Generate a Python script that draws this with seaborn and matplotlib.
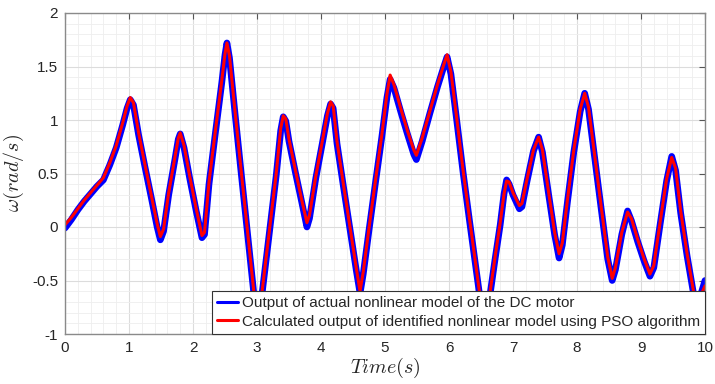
import numpy as np
import pandas as pd
import matplotlib
matplotlib.use("Agg")
import matplotlib.pyplot as plt
import seaborn as sns
from matplotlib.ticker import MultipleLocator

# ---- data ----
time_s = [0.00, 0.10, 0.20, 0.30, 0.40, 0.50, 0.60, 0.70, 0.80, 0.90, 0.97, 1.02, 1.07, 1.15, 1.25, 1.35,
          1.44, 1.49, 1.54, 1.62, 1.72, 1.77, 1.80, 1.86, 1.95, 2.05, 2.14, 2.18, 2.25, 2.35, 2.45, 2.50,
          2.53, 2.57, 2.65, 2.75, 2.85, 2.95, 3.01, 3.08, 3.20, 3.30, 3.37, 3.41, 3.45, 3.50, 3.60, 3.70,
          3.78, 3.82, 3.92, 4.02, 4.10, 4.15, 4.19, 4.25, 4.35, 4.45, 4.55, 4.61, 4.66, 4.75, 4.85, 4.95,
          5.03, 5.08, 5.14, 5.25, 5.35, 5.45, 5.49, 5.58, 5.70, 5.82, 5.92, 5.97, 6.03, 6.12, 6.22, 6.32,
          6.42, 6.52, 6.57, 6.62, 6.72, 6.80, 6.86, 6.90, 6.94, 7.00, 7.10, 7.14, 7.22, 7.32, 7.40, 7.46,
          7.55, 7.65, 7.72, 7.77, 7.85, 7.95, 8.05, 8.12, 8.18, 8.28, 8.38, 8.48, 8.55, 8.60, 8.70, 8.79,
          8.85, 8.95, 9.05, 9.14, 9.20, 9.30, 9.40, 9.48, 9.54, 9.62, 9.72, 9.82, 9.88, 9.95, 10.00]

pso_output = [0.02, 0.09, 0.17, 0.25, 0.32, 0.39, 0.46, 0.60, 0.76, 0.97, 1.13, 1.21, 1.16, 0.88, 0.58, 0.29,
              0.03, -0.09, -0.02, 0.32, 0.66, 0.83, 0.88, 0.76, 0.47, 0.17, -0.08, -0.05, 0.42, 0.90, 1.37, 1.62,
              1.72, 1.60, 1.12, 0.54, -0.03, -0.60, -0.93, -0.60, 0.00, 0.50, 0.92, 1.04, 1.01, 0.82, 0.53, 0.25,
              0.04, 0.11, 0.48, 0.80, 1.06, 1.17, 1.13, 0.80, 0.40, 0.01, -0.38, -0.60, -0.42, -0.01, 0.43, 0.86,
              1.24, 1.42, 1.33, 1.10, 0.90, 0.72, 0.67, 0.83, 1.08, 1.33, 1.52, 1.61, 1.45, 1.02, 0.53, 0.08,
              -0.36, -0.80, -0.90, -0.70, -0.28, 0.04, 0.31, 0.43, 0.42, 0.32, 0.20, 0.22, 0.45, 0.72, 0.84, 0.72,
              0.35, -0.05, -0.25, -0.15, 0.25, 0.72, 1.10, 1.25, 1.12, 0.65, 0.18, -0.28, -0.48, -0.38, -0.05, 0.14,
              0.08, -0.12, -0.30, -0.44, -0.36, 0.05, 0.45, 0.65, 0.55, 0.15, -0.25, -0.60, -0.70, -0.62, -0.55]

actual_output = [-0.01, 0.07, 0.16, 0.24, 0.31, 0.38, 0.44, 0.58, 0.74, 0.95, 1.11, 1.19, 1.14, 0.86, 0.56, 0.27,
                 0.00, -0.12, -0.04, 0.30, 0.64, 0.82, 0.87, 0.74, 0.45, 0.15, -0.10, -0.07, 0.40, 0.88, 1.35, 1.61,
                 1.72, 1.58, 1.10, 0.52, -0.05, -0.62, -0.95, -0.62, -0.02, 0.48, 0.90, 1.03, 0.99, 0.80, 0.51, 0.23,
                 0.00, 0.08, 0.46, 0.78, 1.04, 1.15, 1.11, 0.78, 0.38, -0.01, -0.40, -0.62, -0.44, -0.03, 0.41, 0.84,
                 1.21, 1.38, 1.30, 1.07, 0.87, 0.68, 0.63, 0.80, 1.06, 1.31, 1.50, 1.59, 1.43, 1.00, 0.51, 0.06,
                 -0.38, -0.82, -0.92, -0.72, -0.30, 0.02, 0.31, 0.44, 0.40, 0.30, 0.17, 0.19, 0.43, 0.71, 0.84, 0.70,
                 0.33, -0.07, -0.29, -0.17, 0.23, 0.70, 1.08, 1.25, 1.10, 0.63, 0.16, -0.30, -0.50, -0.40, -0.07, 0.15,
                 0.06, -0.14, -0.32, -0.46, -0.38, 0.03, 0.43, 0.66, 0.53, 0.13, -0.27, -0.62, -0.72, -0.60, -0.50]

label_actual = "Output of actual nonlinear model of the DC motor"
label_pso = "Calculated output of identified nonlinear model using PSO algorithm"

x_ticks = [0, 1, 2, 3, 4, 5, 6, 7, 8, 9, 10]
y_ticks = [-1, -0.5, 0, 0.5, 1, 1.5, 2]

df = pd.DataFrame({
    "t": time_s + time_s,
    "w": actual_output + pso_output,
    "series": [label_actual] * len(time_s) + [label_pso] * len(time_s),
})

sns.set_theme(style="white")
plt.rcParams["font.family"] = ["Liberation Sans", "DejaVu Sans"]
plt.rcParams["mathtext.fontset"] = "cm"

fig = plt.figure(figsize=(7.15, 3.84), dpi=100)
ax = fig.add_axes([65 / 715, 1 - 334 / 384, 640 / 715, 321 / 384])

sns.lineplot(data=df[df.series == label_actual], x="t", y="w", color="#0000FF", lw=4.8,
             ax=ax, label=label_actual, sort=False)
sns.lineplot(data=df[df.series == label_pso], x="t", y="w", color="#FF0000", lw=2.2,
             ax=ax, label=label_pso, sort=False)

ax.set_xlim(0, 10)
ax.set_ylim(-1, 2)
ax.set_xticks(x_ticks)
ax.set_xticklabels([f"{v:g}" for v in x_ticks])
ax.set_yticks(y_ticks)
ax.set_yticklabels([f"{v:g}" for v in y_ticks])
ax.xaxis.set_minor_locator(MultipleLocator(0.2))
ax.yaxis.set_minor_locator(MultipleLocator(0.1))

ax.grid(which="major", color="#dcdcdc", lw=0.8)
ax.grid(which="minor", color="#eeeeee", lw=0.6)
ax.set_axisbelow(True)

for s in ax.spines.values():
    s.set_visible(True)
    s.set_color("#8a8a8a")
    s.set_linewidth(1.0)

ax.tick_params(which="major", direction="in", length=4, width=0.8, color="#555555",
               top=True, right=True, labelsize=11, labelcolor="#262626", pad=5)
ax.tick_params(which="minor", length=0)

ax.set_xlabel(r"$Time(s)$", fontsize=14.5, color="#262626", labelpad=1)
ax.set_ylabel(r"$\omega(rad/s)$", fontsize=14.5, color="#262626", labelpad=4)

leg = ax.legend(loc="lower right", borderaxespad=0, fontsize=11, frameon=True, fancybox=False,
                handlelength=1.4, handletextpad=0.2, labelspacing=0.3, borderpad=0.35)
leg.get_frame().set_edgecolor("#333333")
leg.get_frame().set_linewidth(0.8)
leg.get_frame().set_alpha(1.0)
leg.set_zorder(10)
for h in leg.get_lines():
    h.set_linewidth(2.2)

fig.savefig("out.png", dpi=100)
